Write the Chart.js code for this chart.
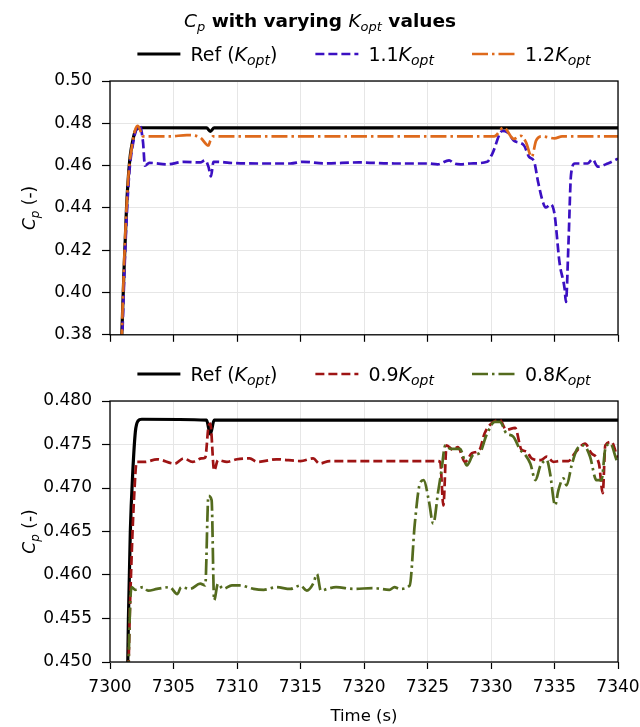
<!DOCTYPE html>
<html>
<head>
<meta charset="utf-8">
<script src="https://cdn.jsdelivr.net/npm/chart.js@4.4.1/dist/chart.umd.min.js"></script>
<style>
  body { margin: 0; background: #fff; }
  canvas { position: absolute; left: 0; }
  #cpHigh { top: 0; }
  #cpLow { top: 355px; }
</style>
</head>
<body>
<canvas id="cpHigh" width="640" height="355"></canvas>
<canvas id="cpLow" width="640" height="372"></canvas>
<script>
'use strict';

// tick positions
const timeTicks = [7300, 7305, 7310, 7315, 7320, 7325, 7330, 7335, 7340];
const cpTicksHigh = [0.38, 0.40, 0.42, 0.44, 0.46, 0.48, 0.50];
const cpTicksLow = [0.450, 0.455, 0.460, 0.465, 0.470, 0.475, 0.480];

// reference controller (K_opt)
const refT = [7300.5, 7300.9, 7301.1, 7301.3, 7301.45, 7301.6, 7301.8, 7302.0, 7302.2, 7302.5, 7307.6, 7307.9, 7308.2, 7340];
const refCp = [0.300, 0.375, 0.410, 0.440, 0.455, 0.465, 0.472, 0.4765, 0.4777, 0.4779, 0.4778, 0.4762, 0.4778, 0.4778];

// 1.1 K_opt
const k11T = [7300.5, 7300.95, 7301.2, 7301.5, 7301.8, 7302.1, 7302.35, 7302.6, 7302.75, 7303.1, 7304.5, 7305.8, 7307.1, 7307.5,
  7307.75, 7307.95, 7308.15, 7308.5, 7309.4, 7311.6, 7314.2, 7315.2, 7316.9, 7319.6, 7322.4, 7325.0, 7325.8, 7326.7, 7327.1,
  7327.6, 7328.4, 7329.7, 7330.1, 7330.9, 7331.3, 7331.8, 7332.6, 7333.0, 7333.4, 7333.7, 7334.1, 7334.3, 7334.7, 7335.0,
  7335.4, 7335.8, 7335.9, 7336.1, 7336.3, 7336.6, 7337.6, 7338.0, 7338.4, 7339.2, 7340.0];
const k11Cp = [0.290, 0.375, 0.420, 0.455, 0.470, 0.4775, 0.4788, 0.4711, 0.4600, 0.4613, 0.4606, 0.4618, 0.4615, 0.4625,
  0.4595, 0.4549, 0.4618, 0.4618, 0.4613, 0.4610, 0.4610, 0.4618, 0.4610, 0.4615, 0.4610, 0.4610, 0.4606, 0.4625, 0.4610,
  0.4606, 0.4610, 0.4618, 0.4656, 0.4764, 0.4757, 0.4718, 0.4695, 0.4641, 0.4618, 0.4525, 0.4425, 0.4402, 0.4417, 0.4371,
  0.4140, 0.4016, 0.3955, 0.4232, 0.4556, 0.4610, 0.4610, 0.4630, 0.4595, 0.4610, 0.4633];

// 1.2 K_opt
const k12T = [7300.5, 7300.9, 7301.15, 7301.45, 7301.75, 7302.0, 7302.2, 7302.6, 7304.7, 7306.05, 7307.1, 7307.75, 7307.9,
  7308.1, 7330.25, 7331.0, 7331.8, 7332.35, 7332.75, 7333.2, 7333.55, 7334.0, 7335.0, 7335.6, 7340];
const k12Cp = [0.300, 0.375, 0.420, 0.455, 0.470, 0.4772, 0.4788, 0.4738, 0.4738, 0.4744, 0.4733, 0.4695, 0.4718,
  0.4738, 0.4738, 0.4780, 0.4726, 0.4741, 0.4711, 0.4641, 0.4718, 0.4738, 0.4729, 0.4738, 0.4738];

// 0.9 K_opt
const k09T = [7300.9, 7301.3, 7301.5, 7301.7, 7301.9, 7302.1, 7302.75, 7303.7, 7305.1, 7305.8, 7306.5, 7307.2, 7307.5,
  7307.75, 7307.9, 7308.2, 7308.5, 7309.2, 7310.0, 7311.0, 7311.6, 7313.1, 7315.0, 7316.0, 7316.5, 7317.3, 7321.2, 7325.7,
  7326.0, 7326.25, 7326.5, 7327.0, 7327.4, 7327.95, 7328.5, 7329.1, 7329.5, 7330.2, 7330.7, 7331.2, 7331.9, 7332.4, 7332.8,
  7333.2, 7333.9, 7334.4, 7334.9, 7335.4, 7336.1, 7336.6, 7337.4, 7337.9, 7338.5, 7338.8, 7339.0, 7339.5, 7339.9, 7340.0];
const k09Cp = [0.370, 0.435, 0.452, 0.462, 0.469, 0.4730, 0.4730, 0.4733, 0.4728, 0.4734, 0.4730, 0.4734, 0.4735,
  0.4770, 0.4774, 0.4720, 0.4732, 0.4730, 0.4733, 0.4734, 0.4730, 0.4733, 0.4731, 0.4734, 0.4728, 0.4731, 0.4731, 0.4731,
  0.4730, 0.4680, 0.4749, 0.4744, 0.4747, 0.4730, 0.4740, 0.4744, 0.4763, 0.4776, 0.4778, 0.4767, 0.4769, 0.4744, 0.4742,
  0.4734, 0.4732, 0.4736, 0.4730, 0.4731, 0.4731, 0.4740, 0.4751, 0.4740, 0.4728, 0.4694, 0.4749, 0.4753, 0.4738, 0.4735];

// 0.8 K_opt
const k08T = [7300.9, 7301.3, 7301.5, 7301.7, 7301.97, 7302.6, 7303.0, 7303.7, 7304.7, 7305.3, 7305.6, 7306.3, 7307.1,
  7307.5, 7307.75, 7308.0, 7308.2, 7308.5, 7308.9, 7309.6, 7310.2, 7311.3, 7312.1, 7313.1, 7314.2, 7315.0, 7315.5, 7316.0,
  7316.3, 7316.6, 7317.1, 7317.8, 7319.2, 7320.7, 7322.0, 7322.4, 7322.8, 7323.6, 7324.0, 7324.4, 7324.7, 7325.1, 7325.45,
  7325.85, 7326.1, 7326.4, 7326.8, 7327.55, 7328.1, 7328.6, 7329.1, 7329.65, 7330.3, 7330.7, 7331.2, 7331.75, 7332.3,
  7332.7, 7333.1, 7333.5, 7333.9, 7334.4, 7334.65, 7335.05, 7335.3, 7335.7, 7335.95, 7336.35, 7336.75, 7337.3, 7337.8,
  7338.3, 7338.7, 7339.0, 7339.4, 7339.9, 7340.0];
const k08Cp = [0.360, 0.430, 0.452, 0.4586, 0.4583, 0.4586, 0.4582, 0.4584, 0.4586, 0.4578, 0.4586, 0.4584, 0.4590,
  0.4588, 0.4691, 0.4686, 0.4571, 0.4590, 0.4584, 0.4588, 0.4588, 0.4584, 0.4583, 0.4586, 0.4584, 0.4588, 0.4582, 0.4590,
  0.4601, 0.4582, 0.4584, 0.4586, 0.4584, 0.4585, 0.4583, 0.4586, 0.4584, 0.4588, 0.4659, 0.4705, 0.4709, 0.4686, 0.4659,
  0.4697, 0.4720, 0.4749, 0.4745, 0.4745, 0.4726, 0.4738, 0.4740, 0.4761, 0.4776, 0.4776, 0.4763, 0.4759, 0.4744,
  0.4738, 0.4728, 0.4709, 0.4726, 0.4732, 0.4717, 0.4680, 0.4697, 0.4711, 0.4703, 0.4726, 0.4744, 0.4749, 0.4736,
  0.4709, 0.4709, 0.4745, 0.4751, 0.4732, 0.4730];

const FONT = '"DejaVu Sans", "Liberation Sans", sans-serif';
const DASHED = [9, 4];
const DASHDOT = [16, 4, 2.5, 4];

// label runs: [text, style] with style n = normal, b = bold, i = italic, s = italic subscript
const kOpt = [['K', 'i'], ['opt', 's']];

function runFont(style, size) {
  if (style === 's') return 'italic ' + Math.round(size * 0.72) + 'px ' + FONT;
  if (style === 'i') return 'italic ' + size + 'px ' + FONT;
  if (style === 'b') return 'bold ' + size + 'px ' + FONT;
  return size + 'px ' + FONT;
}

function richWidth(ctx, runs, size) {
  let w = 0;
  runs.forEach(([t, s]) => { ctx.font = runFont(s, size); w += ctx.measureText(t).width; });
  return w;
}

function drawRich(ctx, runs, x, y, size, align) {
  let cx = align === 'center' ? x - richWidth(ctx, runs, size) / 2 : x;
  ctx.textAlign = 'left';
  ctx.textBaseline = 'alphabetic';
  runs.forEach(([t, s]) => {
    ctx.font = runFont(s, size);
    ctx.fillText(t, cx, s === 's' ? y + size * 0.22 : y);
    cx += ctx.measureText(t).width;
  });
}

function series(label, t, cp, color, dash, width, order) {
  return {
    richLabel: label,
    data: t.map((x, i) => ({ x: x, y: cp[i] })),
    borderColor: color,
    borderDash: dash,
    borderWidth: width,
    pointRadius: 0,
    cubicInterpolationMode: 'monotone',
    order: order
  };
}

// frame, legend, title and y title drawn with sub/italic text
const decor = {
  id: 'decor',
  afterDatasetsDraw(chart) {
    const { ctx, chartArea: a } = chart;
    ctx.save();
    ctx.strokeStyle = '#000';
    ctx.lineWidth = 1.3;
    ctx.strokeRect(a.left, a.top, a.right - a.left, a.bottom - a.top);
    ctx.restore();
  },
  afterDraw(chart, args, opts) {
    const { ctx, chartArea: a } = chart;
    ctx.save();
    ctx.fillStyle = '#000';
    if (opts.title) drawRich(ctx, opts.title, chart.width / 2, opts.titleY, 18.5, 'center');

    // legend row, centred over the plot
    const size = 19, lineLen = 43, gapIn = 10, gapOut = 38;
    const sets = chart.data.datasets;
    const widths = sets.map(ds => lineLen + gapIn + richWidth(ctx, ds.richLabel, size));
    const total = widths.reduce((s, w) => s + w, 0) + gapOut * (sets.length - 1);
    let x = (a.left + a.right) / 2 - total / 2;
    sets.forEach((ds, i) => {
      const ly = opts.legendY - 7;
      ctx.save();
      ctx.strokeStyle = ds.borderColor;
      ctx.lineWidth = ds.borderWidth;
      ctx.setLineDash(ds.borderDash || []);
      ctx.beginPath();
      ctx.moveTo(x, ly);
      ctx.lineTo(x + lineLen, ly);
      ctx.stroke();
      ctx.restore();
      drawRich(ctx, ds.richLabel, x + lineLen + gapIn, opts.legendY, size, 'left');
      x += widths[i] + gapOut;
    });

    // rotated y title
    ctx.translate(29, (a.top + a.bottom) / 2);
    ctx.rotate(-Math.PI / 2);
    drawRich(ctx, [['C', 'i'], ['p', 's'], [' (-)', 'n']], 0, 6, 17, 'center');
    ctx.restore();
  }
};

function makeChart(id, datasets, yTicks, yMin, yMax, digits, bottomPanel, padTop, decorOpts) {
  return new Chart(document.getElementById(id), {
    type: 'line',
    data: { datasets: datasets },
    plugins: [decor],
    options: {
      responsive: false,
      animation: false,
      events: [],
      layout: { padding: { top: padTop, right: 22, left: 0, bottom: 0 } },
      plugins: { legend: { display: false }, tooltip: { enabled: false }, decor: decorOpts },
      scales: {
        x: {
          type: 'linear',
          min: 7300,
          max: 7340,
          afterBuildTicks: s => { s.ticks = timeTicks.map(v => ({ value: v })); },
          afterFit: s => {
            // end labels may overhang the frame, keep the plot width fixed
            s.height = bottomPanel ? 65 : 15;
            s.paddingLeft = 0;
            s.paddingRight = 0;
          },
          grid: { color: '#e6e6e6', tickColor: '#000', tickLength: 7, tickWidth: 1.2 },
          border: { display: false },
          ticks: {
            display: bottomPanel,
            padding: 8,
            color: '#000',
            maxRotation: 0,
            font: { family: FONT, size: 17 },
            callback: v => String(v)
          },
          title: {
            display: bottomPanel,
            text: 'Time (s)',
            color: '#000',
            font: { family: FONT, size: 16.5 },
            padding: { top: 0, bottom: 0 }
          }
        },
        y: {
          min: yMin,
          max: yMax,
          afterBuildTicks: s => { s.ticks = yTicks.map(v => ({ value: v })); },
          afterFit: s => { s.width = 110; },
          grid: { color: '#e6e6e6', tickColor: '#000', tickLength: 8, tickWidth: 1.2 },
          border: { display: false },
          ticks: {
            padding: 10,
            color: '#000',
            font: { family: FONT, size: 17 },
            callback: v => v.toFixed(digits)
          }
        }
      }
    }
  });
}

makeChart('cpHigh', [
  series([['Ref (', 'n'], ...kOpt, [')', 'n']], refT, refCp, '#000000', [], 3.2, 3),
  series([['1.1', 'n'], ...kOpt], k11T, k11Cp, '#3b10c2', DASHED, 2.7, 2),
  series([['1.2', 'n'], ...kOpt], k12T, k12Cp, '#de6a1c', DASHDOT, 2.7, 1)
], cpTicksHigh, 0.38, 0.50, 2, false, 81, {
  title: [['C', 'i'], ['p', 's'], [' with varying ', 'b'], ...kOpt, [' values', 'b']],
  titleY: 27,
  legendY: 61
});

makeChart('cpLow', [
  series([['Ref (', 'n'], ...kOpt, [')', 'n']], refT, refCp, '#000000', [], 3.2, 3),
  series([['0.9', 'n'], ...kOpt], k09T, k09Cp, '#9e1414', DASHED, 2.7, 2),
  series([['0.8', 'n'], ...kOpt], k08T, k08Cp, '#546b1e', DASHDOT, 2.7, 1)
], cpTicksLow, 0.450, 0.480, 3, true, 46, {
  legendY: 26
});
</script>
</body>
</html>
